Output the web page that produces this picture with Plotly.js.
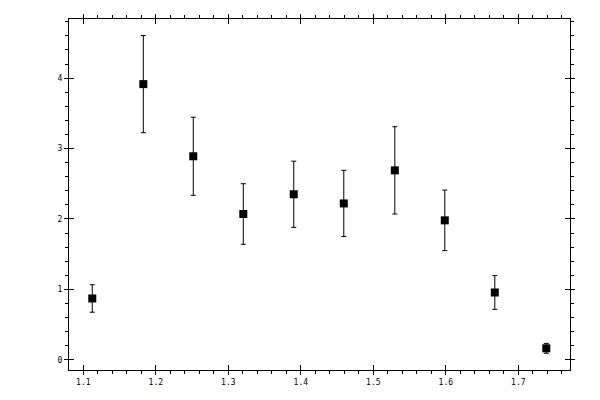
<!DOCTYPE html>
<html>
<head>
<meta charset="utf-8">
<script src="https://cdn.plot.ly/plotly-3.0.1.min.js"></script>
<style>
  body { margin: 0; background: #fff; }
  #myDiv { width: 600px; height: 400px; }
</style>
</head>
<body>
<div id="myDiv"></div>
<script>
// measured points with symmetric errors
var xs = [1.1124, 1.1828, 1.2517, 1.3207, 1.3903, 1.4593, 1.5297, 1.5986, 1.6676, 1.7386];
var ys = [0.87, 3.915, 2.89, 2.07, 2.35, 2.22, 2.69, 1.98, 0.955, 0.162];
var errs = [0.195, 0.69, 0.555, 0.43, 0.47, 0.47, 0.62, 0.43, 0.24, 0.07];

var xRange = [1.0803, 1.7713];
var yRange = [-0.146, 4.84];

var tickFont = {family: 'DejaVu Sans Mono', size: 8, color: '#000'};

var trace1 = {
    x: xs,
    y: ys,
    type: 'scatter',
    mode: 'markers',
    marker: {symbol: 'square', size: 8, color: '#000'},
    error_y: {type: 'data', array: errs, visible: true, color: '#000', thickness: 1, width: 2.5},
    hoverinfo: 'x+y'
};

// invisible copy, only so the inner tick axes get drawn
var trace2 = {
    x: xs,
    y: ys,
    xaxis: 'x2',
    yaxis: 'y2',
    type: 'scatter',
    mode: 'markers',
    marker: {opacity: 0},
    hoverinfo: 'skip'
};

var data = [trace1, trace2];

var layout = {
    width: 600,
    height: 400,
    margin: {l: 69, r: 30, t: 19, b: 30},
    paper_bgcolor: '#fff',
    plot_bgcolor: '#fff',
    showlegend: false,
    xaxis: {
        range: xRange,
        tick0: 1.1, dtick: 0.1,
        ticks: 'outside', ticklen: 4, tickwidth: 1, tickcolor: '#000',
        minor: {ticks: 'outside', dtick: 0.02, ticklen: 3, tickwidth: 1, tickcolor: '#000'},
        showline: true, linecolor: '#000', linewidth: 1, mirror: 'ticks',
        showgrid: false, zeroline: false,
        tickfont: tickFont
    },
    yaxis: {
        range: yRange,
        tick0: 0, dtick: 1,
        ticks: 'outside', ticklen: 4, tickwidth: 1, tickcolor: '#000',
        minor: {ticks: 'outside', dtick: 0.2, ticklen: 3, tickwidth: 1, tickcolor: '#000'},
        showline: true, linecolor: '#000', linewidth: 1, mirror: 'ticks',
        showgrid: false, zeroline: false,
        tickfont: tickFont
    },
    xaxis2: {
        overlaying: 'x',
        range: xRange,
        tick0: 1.1, dtick: 0.1,
        ticks: 'inside', ticklen: 5, tickwidth: 1, tickcolor: '#000',
        mirror: 'ticks', showline: false,
        showticklabels: false, showgrid: false, zeroline: false
    },
    yaxis2: {
        overlaying: 'y',
        range: yRange,
        tick0: 0, dtick: 1,
        ticks: 'inside', ticklen: 5, tickwidth: 1, tickcolor: '#000',
        mirror: 'ticks', showline: false,
        showticklabels: false, showgrid: false, zeroline: false
    }
};

Plotly.newPlot('myDiv', data, layout, {displayModeBar: false, staticPlot: true});
</script>
</body>
</html>
